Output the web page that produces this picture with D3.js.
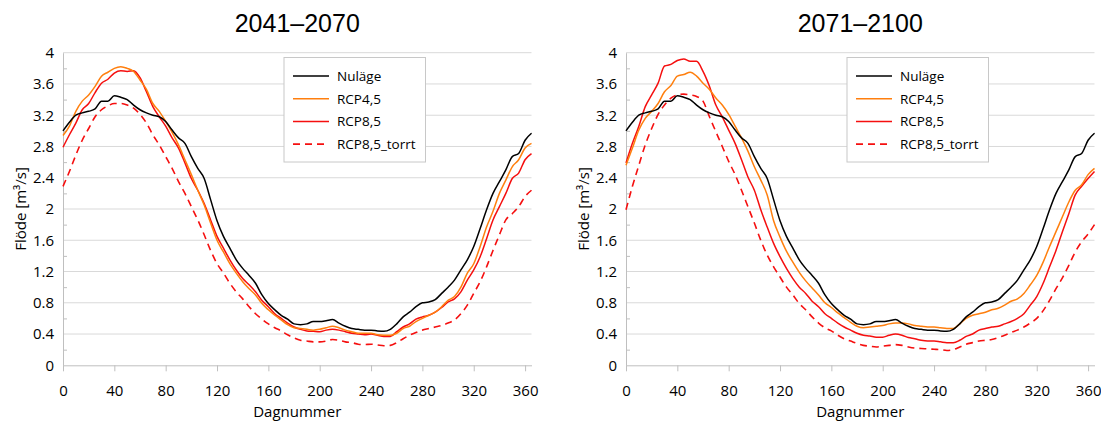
<!DOCTYPE html>
<html>
<head>
<meta charset="utf-8">
<script src="https://cdn.jsdelivr.net/npm/d3@7"></script>
<style>
  body { margin: 0; background: #fff; }
  svg { display: block; }
  text { font-family: "Open Sans", sans-serif; fill: #000; }
</style>
</head>
<body>
<div id="chart"></div>
<script>
'use strict';

// Data
const days = [0,5,10,15,20,25,30,35,40,45,50,55,60,65,70,75,80,85,90,95,100,105,110,115,120,125,130,135,140,145,150,155,160,165,170,175,180,
  185,190,195,200,205,210,215,220,225,230,235,240,245,250,255,260,265,270,275,280,285,290,295,300,305,310,315,320,325,330,335,340,345,350,355,360,365]

const nulage = [3.00,3.11,3.20,3.23,3.25,3.28,3.38,3.38,3.45,3.43,3.40,3.33,3.27,3.23,3.20,3.18,3.12,3.01,2.91,2.84,2.67,2.52,2.39,2.12,1.85,1.65,1.50,1.35,1.24,1.15,1.05,0.90,0.79,0.71,0.64,0.59,0.53,
  0.52,0.53,0.56,0.56,0.57,0.585,0.54,0.50,0.47,0.46,0.45,0.45,0.44,0.435,0.46,0.53,0.62,0.68,0.75,0.80,0.81,0.84,0.92,1.00,1.09,1.22,1.35,1.52,1.75,1.99,2.20,2.35,2.50,2.67,2.71,2.88,2.97]

// 2041–2070
const rcp45a = [2.94,3.06,3.25,3.38,3.46,3.57,3.70,3.75,3.80,3.82,3.80,3.76,3.65,3.53,3.35,3.25,3.12,2.98,2.82,2.63,2.44,2.24,2.05,1.82,1.60,1.45,1.30,1.18,1.07,0.98,0.90,0.79,0.71,0.64,0.58,0.52,0.48,
  0.47,0.46,0.45,0.46,0.48,0.50,0.48,0.45,0.43,0.41,0.41,0.41,0.39,0.385,0.385,0.41,0.47,0.50,0.56,0.60,0.64,0.68,0.75,0.83,0.88,1.00,1.18,1.30,1.52,1.77,1.97,2.20,2.37,2.54,2.63,2.78,2.84]
const rcp85a = [2.79,2.95,3.10,3.27,3.35,3.49,3.61,3.66,3.74,3.77,3.76,3.77,3.68,3.50,3.31,3.18,3.06,2.91,2.78,2.59,2.39,2.24,2.07,1.86,1.65,1.50,1.35,1.22,1.11,1.03,0.94,0.83,0.75,0.66,0.60,0.54,0.49,
  0.46,0.44,0.435,0.43,0.45,0.46,0.45,0.43,0.41,0.40,0.39,0.40,0.385,0.37,0.37,0.43,0.49,0.53,0.59,0.62,0.64,0.68,0.74,0.81,0.85,0.94,1.09,1.22,1.39,1.62,1.86,2.03,2.20,2.39,2.46,2.63,2.71]
const torrta = [2.29,2.48,2.69,2.88,3.03,3.18,3.27,3.32,3.35,3.35,3.33,3.29,3.21,3.10,2.95,2.82,2.67,2.52,2.35,2.20,2.03,1.86,1.67,1.47,1.30,1.18,1.05,0.94,0.85,0.75,0.66,0.59,0.53,0.48,0.44,0.39,0.35,
  0.32,0.31,0.30,0.30,0.31,0.33,0.32,0.30,0.29,0.27,0.265,0.27,0.26,0.25,0.255,0.29,0.34,0.385,0.42,0.45,0.47,0.49,0.51,0.54,0.58,0.66,0.77,0.92,1.07,1.26,1.47,1.67,1.86,1.94,2.03,2.16,2.24]

// 2071–2100
const rcp45b = [2.56,2.78,3.01,3.16,3.25,3.35,3.50,3.58,3.70,3.72,3.75,3.70,3.61,3.53,3.42,3.33,3.21,3.06,2.91,2.74,2.54,2.37,2.18,1.85,1.64,1.46,1.32,1.19,1.08,0.99,0.90,0.80,0.74,0.67,0.61,0.55,0.50,
  0.48,0.49,0.50,0.51,0.53,0.54,0.54,0.53,0.51,0.50,0.49,0.49,0.48,0.47,0.47,0.53,0.60,0.64,0.66,0.68,0.71,0.73,0.77,0.82,0.85,0.92,1.03,1.15,1.32,1.52,1.71,1.90,2.09,2.24,2.31,2.44,2.52]
const rcp85b = [2.59,2.84,3.06,3.31,3.46,3.61,3.83,3.85,3.90,3.92,3.89,3.89,3.76,3.57,3.33,3.18,3.01,2.84,2.63,2.41,2.24,1.99,1.77,1.56,1.39,1.24,1.11,1.00,0.92,0.82,0.75,0.66,0.60,0.54,0.49,0.45,0.41,
  0.385,0.375,0.36,0.36,0.385,0.40,0.385,0.355,0.34,0.32,0.31,0.31,0.30,0.29,0.29,0.32,0.37,0.40,0.45,0.47,0.49,0.50,0.53,0.56,0.60,0.66,0.77,0.88,1.05,1.26,1.47,1.71,1.94,2.18,2.29,2.39,2.48]
const torrtb = [1.99,2.29,2.56,2.82,3.03,3.21,3.33,3.42,3.46,3.47,3.46,3.44,3.38,3.18,2.99,2.80,2.61,2.44,2.24,2.03,1.82,1.60,1.41,1.26,1.13,1.00,0.90,0.79,0.71,0.62,0.54,0.48,0.44,0.385,0.34,0.31,0.28,
  0.255,0.245,0.235,0.245,0.255,0.265,0.255,0.235,0.22,0.215,0.21,0.205,0.20,0.19,0.20,0.235,0.27,0.29,0.31,0.32,0.33,0.355,0.385,0.42,0.45,0.49,0.54,0.60,0.70,0.83,0.98,1.12,1.28,1.45,1.58,1.68,1.80]

const seriesNames = ['Nuläge', 'RCP4,5', 'RCP8,5', 'RCP8,5_torrt']
const panelTitles = ['2041–2070', '2071–2100']
const xTicks = [0,40,80,120,160,200,240,280,320,360]
const yTicks = [0,0.4,0.8,1.2,1.6,2,2.4,2.8,3.2,3.6,4]
const yMinor = [0.2,0.6,1.0,1.4,1.8,2.2,2.6,3.0,3.4,3.8]

const styles = [
  {color: '#000000', dash: null, width: 1.5},
  {color: '#ff7f0e', dash: null, width: 1.5},
  {color: '#f50f0f', dash: null, width: 1.5},
  {color: '#f50f0f', dash: '7,5', width: 1.6}
]

const W = 1101, H = 421
const svg = d3.select('#chart').append('svg').attr('width', W).attr('height', H)

function drawPanel(left, title, values) {
  const plot = {left: left, right: left + 468.5, top: 52.7, bottom: 365.3}
  const x = d3.scaleLinear().domain([0, 365]).range([plot.left, plot.right])
  const y = d3.scaleLinear().domain([0, 4]).range([plot.bottom, plot.top])
  const g = svg.append('g')

  // gridlines
  g.append('g').selectAll('line')
    .data(yTicks.filter(d => d > 0))
    .join('line')
      .attr('x1', plot.left).attr('x2', plot.right)
      .attr('y1', d => y(d)).attr('y2', d => y(d))
      .attr('stroke', '#d9d9d9').attr('stroke-width', 1)

  // minor y ticks (inside)
  g.append('g')
    .attr('transform', `translate(${plot.left},0)`)
    .call(d3.axisLeft(y).tickValues(yMinor).tickSize(-4).tickFormat(''))
    .call(a => a.select('.domain').remove())
    .call(a => a.selectAll('line').attr('stroke', '#bfbfbf'))

  // y axis
  g.append('g')
    .attr('transform', `translate(${plot.left},0)`)
    .call(d3.axisLeft(y).tickValues(yTicks).tickSize(0).tickPadding(9).tickFormat(d => String(d)))
    .call(a => a.select('.domain').attr('stroke', '#bfbfbf'))
    .call(a => a.selectAll('text').style('font-size', '15px').attr('font-family', null))

  // x axis
  g.append('g')
    .attr('transform', `translate(0,${plot.bottom})`)
    .call(d3.axisBottom(x).tickValues(xTicks).tickSizeInner(6).tickSizeOuter(0))
    .call(a => a.select('.domain').attr('stroke', '#bfbfbf'))
    .call(a => a.selectAll('line').attr('stroke', '#bfbfbf'))
    .call(a => a.selectAll('text').style('font-size', '15px').attr('font-family', null)
      .attr('dy', null).attr('y', 31))

  // axis titles
  g.append('text')
    .attr('x', (plot.left + plot.right) / 2).attr('y', 417)
    .attr('text-anchor', 'middle').style('font-size', '15px')
    .text('Dagnummer')
  g.append('text')
    .attr('transform', `translate(${plot.left - 37.5},${(plot.top + plot.bottom) / 2}) rotate(-90)`)
    .attr('text-anchor', 'middle').style('font-size', '15px')
    .text('Flöde [m³/s]')

  // title
  g.append('text')
    .attr('x', (plot.left + plot.right) / 2).attr('y', 32)
    .attr('text-anchor', 'middle')
    .style('font-family', '"Liberation Sans", Arial, sans-serif').style('font-size', '25px')
    .text(title)

  // lines
  const line = d3.line()
    .x((d, i) => x(days[i]))
    .y(d => y(d))
    .curve(d3.curveMonotoneX)

  const order = [3, 2, 1, 0]
  g.append('g').selectAll('path')
    .data(order)
    .join('path')
      .attr('fill', 'none')
      .attr('stroke', k => styles[k].color)
      .attr('stroke-width', k => styles[k].width)
      .attr('stroke-dasharray', k => styles[k].dash)
      .attr('d', k => line(values[k]))

  // legend
  const lg = g.append('g').attr('transform', `translate(${plot.left + 221},57.5)`)
  lg.append('rect')
    .attr('width', 141.5).attr('height', 104.5)
    .attr('fill', '#fff').attr('stroke', '#c8c8c8').attr('stroke-width', 1)
  const rows = lg.selectAll('g.row')
    .data(seriesNames)
    .join('g')
      .attr('class', 'row')
      .attr('transform', (d, i) => `translate(0,${18.5 + i * 22.7})`)
  rows.append('line')
    .attr('x1', 9).attr('x2', 45)
    .attr('stroke', (d, i) => styles[i].color)
    .attr('stroke-width', (d, i) => styles[i].width)
    .attr('stroke-dasharray', (d, i) => styles[i].dash)
  rows.append('text')
    .attr('x', 53).attr('y', 5)
    .style('font-size', '13.5px')
    .text(d => d)
}

drawPanel(63, panelTitles[0], [nulage, rcp45a, rcp85a, torrta])
drawPanel(626, panelTitles[1], [nulage, rcp45b, rcp85b, torrtb])
</script>
</body>
</html>
